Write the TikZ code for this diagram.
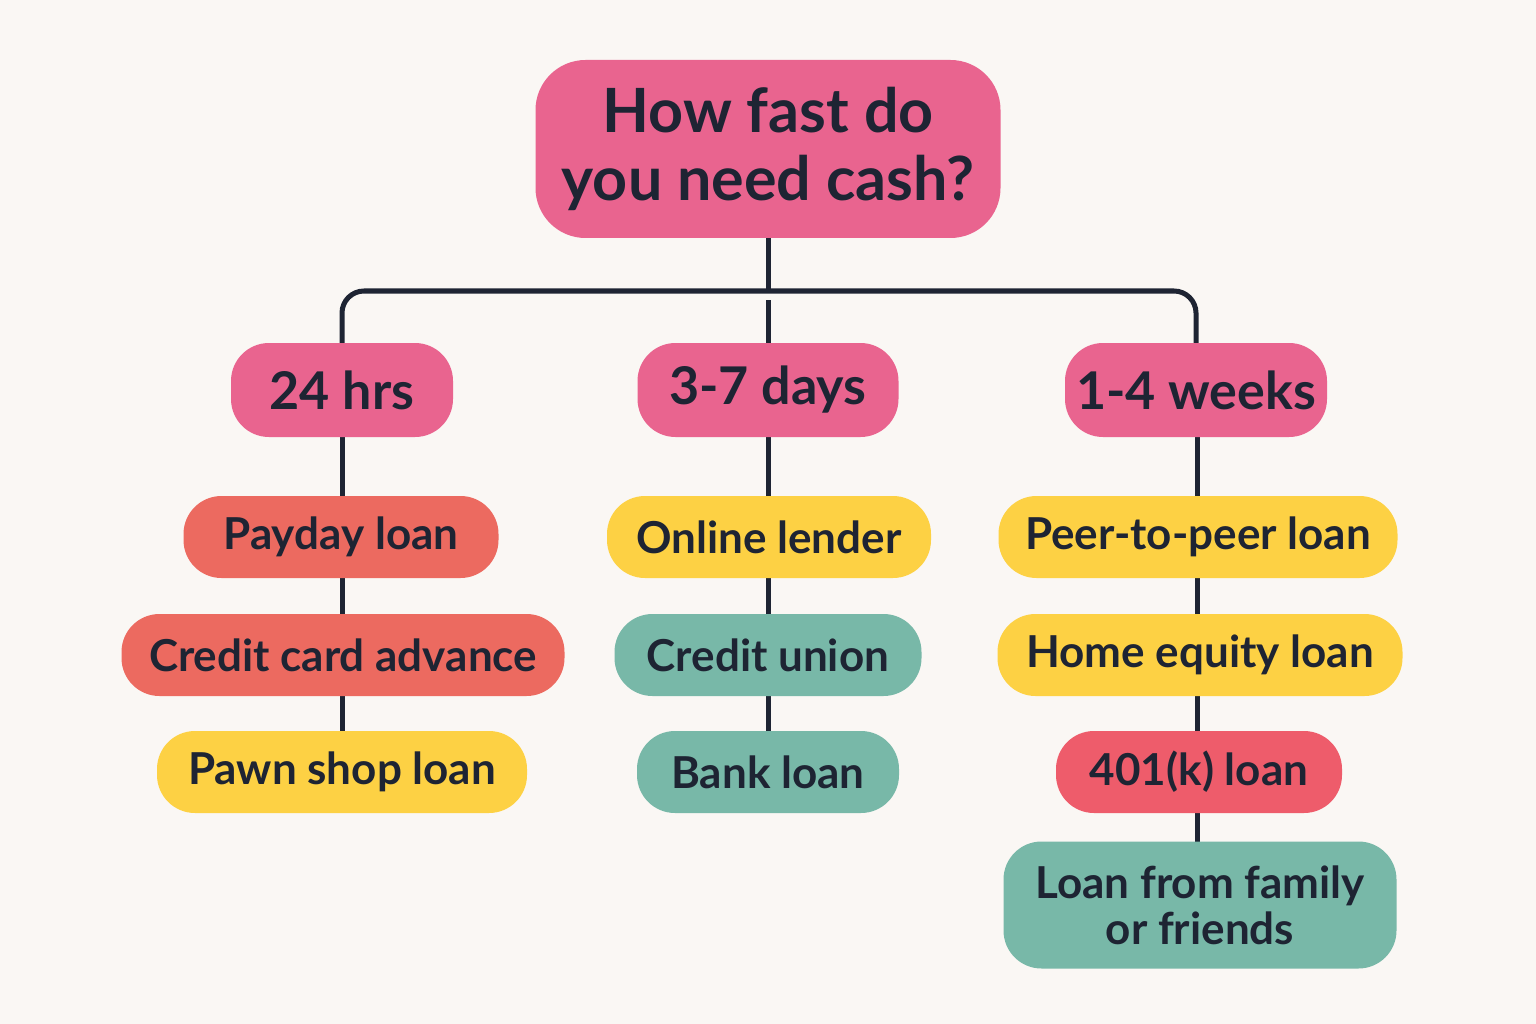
\documentclass[tikz,border=0pt]{standalone}
\usepackage{fontspec}
\setmainfont{Lato}
\definecolor{bg}{HTML}{FAF7F4}
\definecolor{pinkc}{HTML}{E9648F}
\definecolor{redc}{HTML}{EC6A60}
\definecolor{yelc}{HTML}{FDD144}
\definecolor{teac}{HTML}{78B8A8}
\definecolor{rosec}{HTML}{EE5C6B}
\definecolor{ink}{HTML}{1E2433}
\begin{document}
\begin{tikzpicture}[x=1pt,y=-1pt,
  box/.style={rounded corners=38pt,inner sep=0pt,text=ink,align=center,font=\bfseries\fontsize{44}{50}\selectfont},
  tier/.style={box,fill=pinkc,minimum height=94pt,font=\bfseries\fontsize{52}{58}\selectfont},
  item/.style={box,minimum height=82pt},
  link/.style={draw=ink,line width=5pt}]
\fill[bg] (0,0) rectangle (1536,1024);
\useasboundingbox (0,0) rectangle (1536,1024);
\coordinate (bar) at (768,291);
\coordinate (b1) at (342,291);
\coordinate (b3) at (1196,291);
\draw[link] (768,200) -- (bar);
\draw[link,rounded corners=22pt] (342,400) -- (b1) -- (b3) -- (1196,400);
\draw[link] (342,400) -- (342,780);
\draw[link] (768,300) -- (768,780);
\draw[link] (1197,400) -- (1197,900);
\node[box,fill=pinkc,minimum width=465pt,minimum height=178pt,rounded corners=50pt,font=\bfseries\fontsize{61}{68}\selectfont] (root) at (768,149) {How fast do\\you need cash?};
\node[tier,minimum width=222pt] (h24) at (342,390) {24 hrs};
\node[tier,minimum width=261pt] (d37) at (768,390) {3-7 days};
\node[tier,minimum width=262pt] (w14) at (1196,390) {1-4 weeks};
\node[item,fill=redc,minimum width=315pt] (pay) at (341,537) {Payday loan};
\node[item,fill=redc,minimum width=443pt] (cca) at (343,655) {Credit card advance};
\node[item,fill=yelc,minimum width=370pt] (pawn) at (342,772) {Pawn shop loan};
\node[item,fill=yelc,minimum width=324pt] (onl) at (769,537) {Online lender};
\node[item,fill=teac,minimum width=307pt] (cu) at (768,655) {Credit union};
\node[item,fill=teac,minimum width=262pt] (bank) at (768,772) {Bank loan};
\node[item,fill=yelc,minimum width=399pt] (p2p) at (1198,537) {Peer-to-peer loan};
\node[item,fill=yelc,minimum width=405pt] (home) at (1200,655) {Home equity loan};
\node[item,fill=rosec,minimum width=286pt] (k401) at (1199,772) {401(k) loan};
\node[item,fill=teac,minimum width=393pt,minimum height=127pt,font=\bfseries\fontsize{44}{46}\selectfont] (fam) at (1200,905) {Loan from family\\or friends};
\end{tikzpicture}
\end{document}
